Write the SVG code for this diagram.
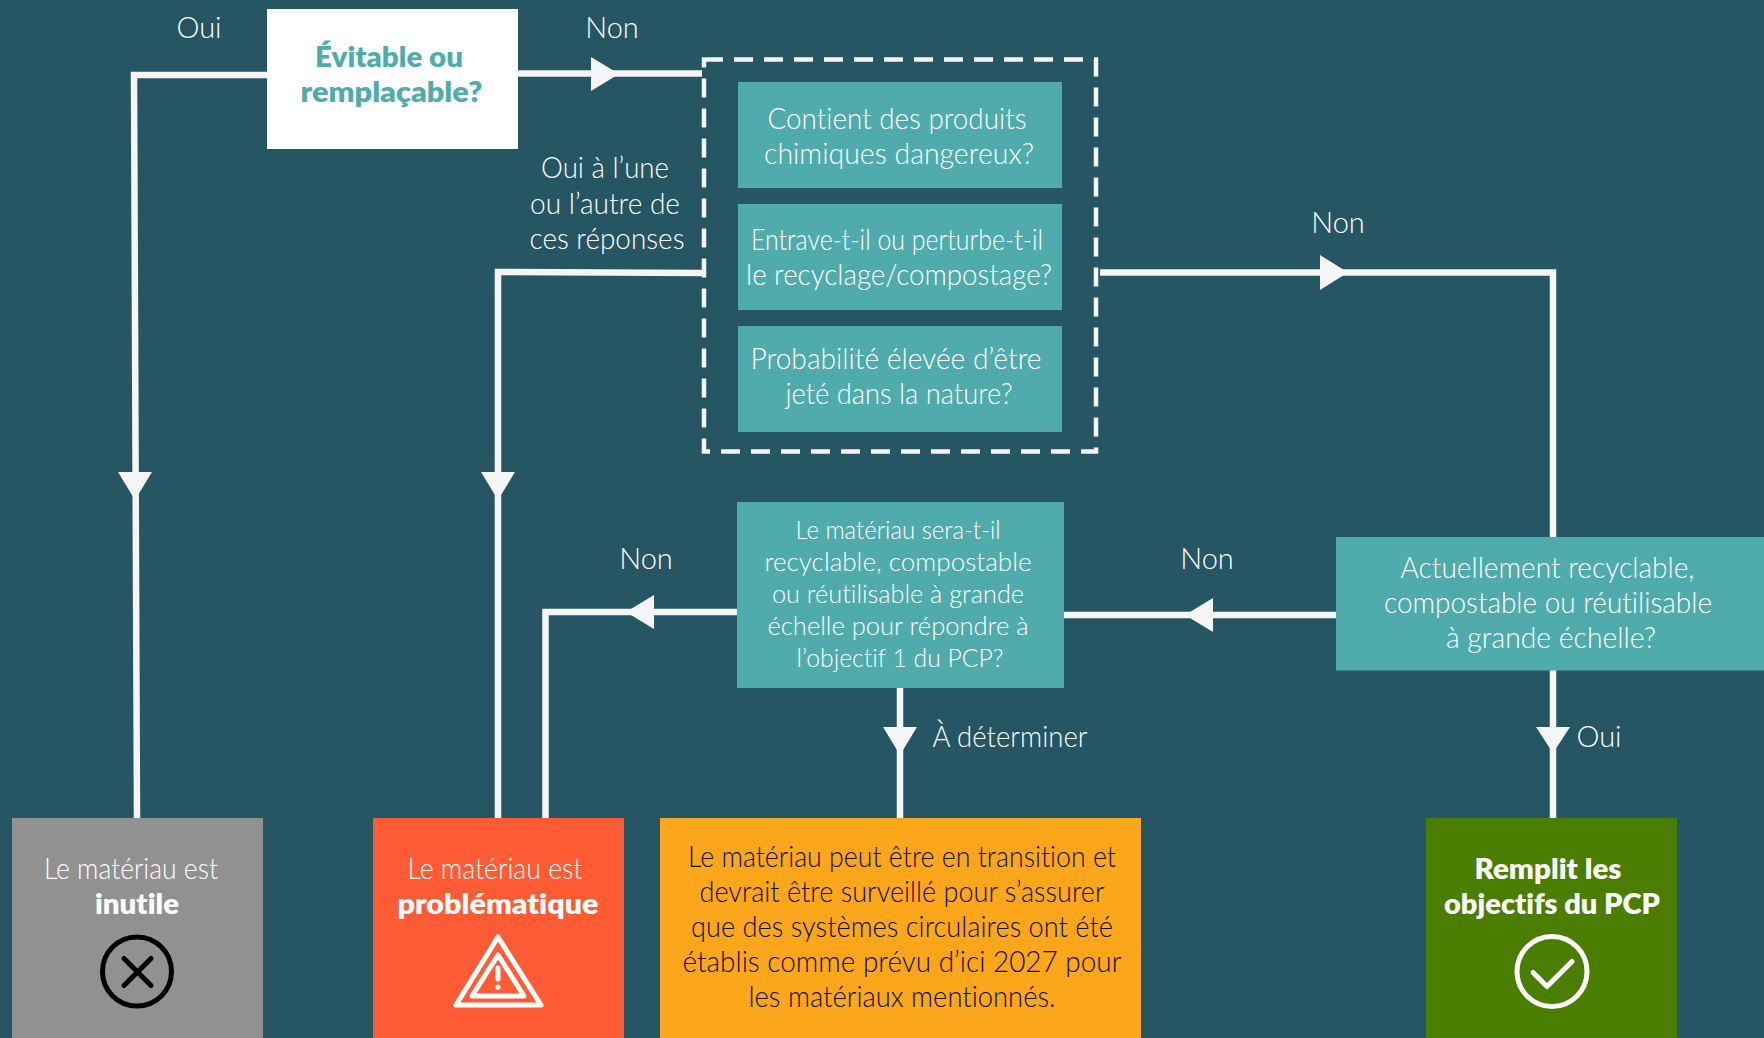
<svg xmlns="http://www.w3.org/2000/svg" width="1764" height="1038" viewBox="0 0 1764 1038">
<defs><style>
text{font-family:"Lato","Open Sans",sans-serif;font-size:29px;font-weight:300;fill:#fff;text-anchor:middle;font-variant-ligatures:none}
.b{font-weight:800}
.s{font-size:25.5px}
.k{fill:#111}
.t{fill:#4fabac;font-weight:800}
.c{fill:none;stroke:#f5f5f5;stroke-width:6.5}
.a{fill:#f5f5f5}
.i{fill:none;stroke-linecap:round;stroke-linejoin:round;stroke-width:5}
</style></defs>
<rect width="1764" height="1038" fill="#265563"/>
<g id="connectors">
<path class="c" d="M267 75H134L137 819"/>
<path class="c" d="M518 73.5H702"/>
<path class="c" d="M703 273L498 272V818"/>
<path class="c" d="M1100 272.5H1553V537"/>
<path class="c" d="M1336 615H1063"/>
<path class="c" d="M737 612H545.5V818"/>
<path class="c" d="M900 687V818"/>
<path class="c" d="M1553 670V818"/>
<path class="a" d="M118 472H152L135 500Z"/>
<path class="a" d="M591 57L619 74L591 91Z"/>
<path class="a" d="M481 472H515L498 500Z"/>
<path class="a" d="M1320 255L1348 272.5L1320 290Z"/>
<path class="a" d="M1213 598L1185 615L1213 632Z"/>
<path class="a" d="M654 595L626 612L654 629Z"/>
<path class="a" d="M883 727H917L900 755Z"/>
<path class="a" d="M1536 727H1570L1553 753Z"/>
<path d="M704 59.5H1096V451.5H704Z" fill="none" stroke="#f5f5f5" stroke-width="4.5" stroke-dasharray="19 11"/>
</g>
<g id="labels">
<text x="199" y="38">Oui</text>
<text x="612" y="38">Non</text>
<text x="605" y="178" textLength="128" lengthAdjust="spacingAndGlyphs">Oui à l’une</text>
<text x="605" y="214" textLength="150" lengthAdjust="spacingAndGlyphs">ou l’autre de</text>
<text x="607" y="249" textLength="155" lengthAdjust="spacingAndGlyphs">ces réponses</text>
<text x="1338" y="233">Non</text>
<text x="1207" y="569">Non</text>
<text x="646" y="569">Non</text>
<text x="1010" y="747" textLength="155" lengthAdjust="spacingAndGlyphs">À déterminer</text>
<text x="1599" y="747">Oui</text>
</g>
<g id="n-evitable"><rect x="267" y="9" width="251" height="140" fill="#fff"/>
<text class="t" x="389" y="67" textLength="148" lengthAdjust="spacingAndGlyphs">Évitable ou</text><text class="t" x="391.5" y="102" textLength="182" lengthAdjust="spacingAndGlyphs">remplaçable?</text></g>
<g id="n-chimiques"><rect x="738" y="82" width="324" height="106" fill="#4fabac"/>
<text x="897" y="129" textLength="259" lengthAdjust="spacingAndGlyphs">Contient des produits</text><text x="899" y="164" textLength="270" lengthAdjust="spacingAndGlyphs">chimiques dangereux?</text></g>
<g id="n-recyclage"><rect x="738" y="204" width="324" height="106" fill="#4fabac"/>
<text x="897" y="250" textLength="292" lengthAdjust="spacingAndGlyphs">Entrave-t-il ou perturbe-t-il</text><text x="899" y="285" textLength="306" lengthAdjust="spacingAndGlyphs">le recyclage/compostage?</text></g>
<g id="n-nature"><rect x="738" y="326" width="324" height="106" fill="#4fabac"/>
<text x="896" y="369" textLength="291" lengthAdjust="spacingAndGlyphs">Probabilité élevée d’être</text><text x="899" y="404" textLength="227" lengthAdjust="spacingAndGlyphs">jeté dans la nature?</text></g>
<g id="n-objectif"><rect x="737" y="502" width="327" height="186" fill="#4fabac"/>
<text class="s" x="898" y="539" textLength="205" lengthAdjust="spacingAndGlyphs">Le matériau sera-t-il</text><text class="s" x="898" y="571" textLength="267" lengthAdjust="spacingAndGlyphs">recyclable, compostable</text><text class="s" x="898" y="603" textLength="252" lengthAdjust="spacingAndGlyphs">ou réutilisable à grande</text><text class="s" x="898" y="635" textLength="261" lengthAdjust="spacingAndGlyphs">échelle pour répondre à</text><text class="s" x="900" y="667" textLength="207" lengthAdjust="spacingAndGlyphs">l’objectif 1 du PCP?</text></g>
<g id="n-actuel"><rect x="1336" y="537" width="428" height="133.500" fill="#4fabac"/>
<text x="1547.500" y="578" textLength="294" lengthAdjust="spacingAndGlyphs">Actuellement recyclable,</text><text x="1548" y="613" textLength="328" lengthAdjust="spacingAndGlyphs">compostable ou réutilisable</text><text x="1551" y="648" textLength="210" lengthAdjust="spacingAndGlyphs">à grande échelle?</text></g>
<g id="n-inutile"><rect x="12" y="818" width="251" height="220" fill="#919191"/>
<text x="131" y="879" textLength="174" lengthAdjust="spacingAndGlyphs">Le matériau est</text><text class="b" x="137" y="914" textLength="84" lengthAdjust="spacingAndGlyphs">inutile</text>
<circle cx="137" cy="971.500" r="34.5" fill="none" stroke="#000" stroke-width="5"/>
<path class="i" stroke="#000" d="M124 958.500L151 985.500M151 958.500L124 985.500"/></g>
<g id="n-problematique"><rect x="373" y="818" width="251" height="220" fill="#ff5c35"/>
<text x="495" y="879" textLength="175" lengthAdjust="spacingAndGlyphs">Le matériau est</text><text class="b" x="498" y="914" textLength="201" lengthAdjust="spacingAndGlyphs">problématique</text>
<path class="i" stroke="#fff" d="M498 937L541 1005H456Z"/>
<path class="i" stroke="#fff" stroke-width="4" d="M498 955L524 996H472Z"/>
<path class="i" stroke="#fff" stroke-width="3" d="M498 968V979M498 987V987.5"/></g>
<g id="n-transition"><rect x="660" y="818" width="481" height="220" fill="#fca61c"/>
<text class="k" x="902" y="867" textLength="428" lengthAdjust="spacingAndGlyphs">Le matériau peut être en transition et</text><text class="k" x="902" y="902" textLength="405" lengthAdjust="spacingAndGlyphs">devrait être surveillé pour s’assurer</text><text class="k" x="902" y="937" textLength="422" lengthAdjust="spacingAndGlyphs">que des systèmes circulaires ont été</text><text class="k" x="902" y="972" textLength="439" lengthAdjust="spacingAndGlyphs">établis comme prévu d’ici 2027 pour</text><text class="k" x="902" y="1007" textLength="307" lengthAdjust="spacingAndGlyphs">les matériaux mentionnés.</text></g>
<g id="n-remplit"><rect x="1426" y="818" width="251" height="220" fill="#4b7d00"/>
<text class="b" x="1548" y="879" textLength="147" lengthAdjust="spacingAndGlyphs">Remplit les</text><text class="b" x="1552" y="914" textLength="216" lengthAdjust="spacingAndGlyphs">objectifs du PCP</text>
<circle cx="1552" cy="971.500" r="35" fill="none" stroke="#fff" stroke-width="5"/>
<path class="i" stroke="#fff" d="M1533 972.500L1547 986.500L1572 961.500"/></g>
</svg>
